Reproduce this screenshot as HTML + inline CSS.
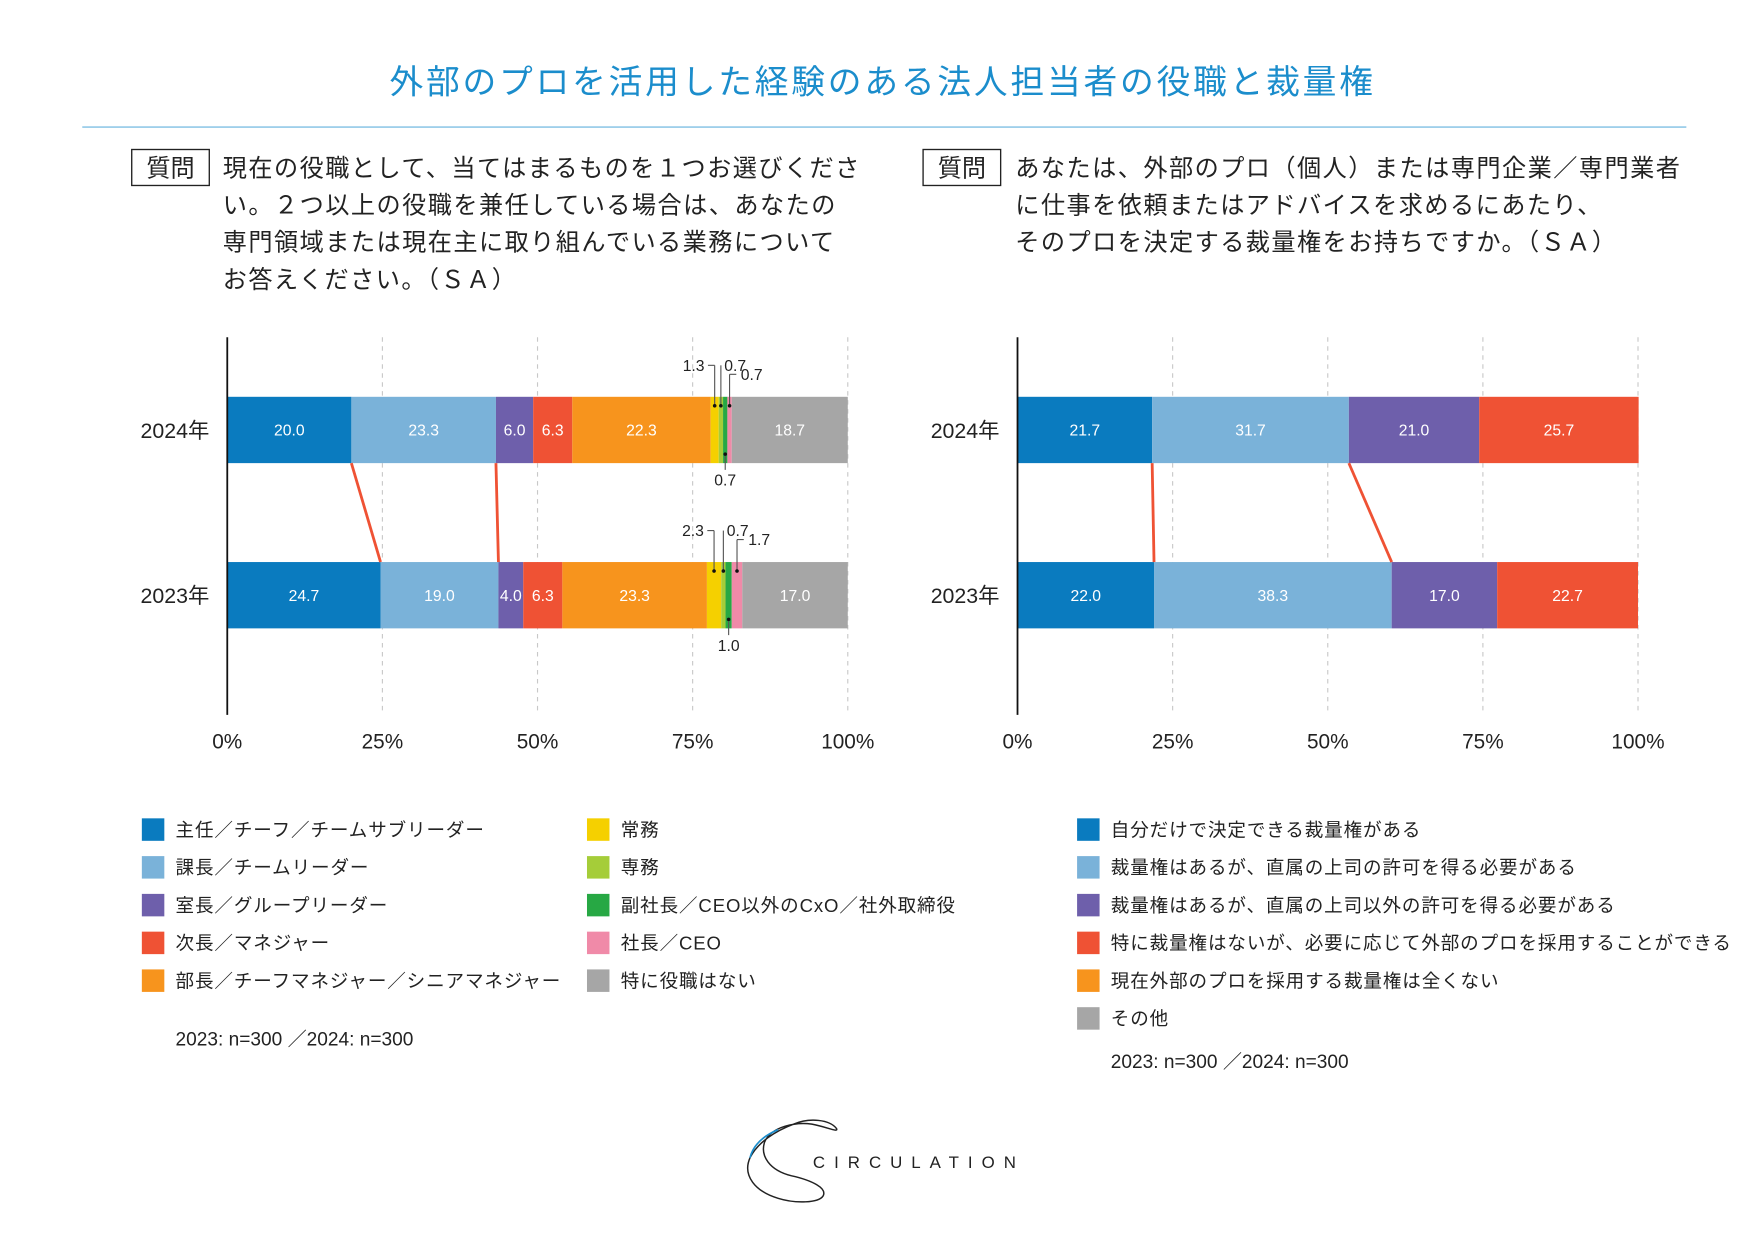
<!DOCTYPE html>
<html lang="ja">
<head>
<meta charset="utf-8">
<style>
  html,body{margin:0;padding:0;background:#fff;}
  body{width:1754px;height:1241px;overflow:hidden;}
  svg{display:block;font-family:"Liberation Sans","Noto Sans CJK JP",sans-serif;}
  .q{font-size:21.5px;fill:#222;letter-spacing:1.3px;}
  .lg{font-size:16.5px;fill:#222;letter-spacing:0.8px;}
</style>
</head>
<body>
<svg id="root" width="1754" height="1241" viewBox="0 0 1560 1104" xmlns="http://www.w3.org/2000/svg">
  <text x="785" y="83" text-anchor="middle" font-size="30" letter-spacing="2.5" fill="#1b8dcc">外部のプロを活用した経験のある法人担当者の役職と裁量権</text>
  <line x1="73" y1="113" x2="1500" y2="113" stroke="#7fbfe3" stroke-width="1.2"/>

  <g>
    <rect x="117" y="133" width="69" height="32" fill="none" stroke="#222" stroke-width="1.2"/>
    <text x="151.5" y="157" text-anchor="middle" class="q" style="letter-spacing:0">質問</text>
    <text class="q" x="198" y="157">現在の役職として、当てはまるものを１つお選びくださ</text>
    <text class="q" x="198" y="190">い。２つ以上の役職を兼任している場合は、あなたの</text>
    <text class="q" x="198" y="223">専門領域または現在主に取り組んでいる業務について</text>
    <text class="q" x="198" y="256">お答えください。（ＳＡ）</text>
  </g>
  <g>
    <rect x="821" y="133" width="69" height="32" fill="none" stroke="#222" stroke-width="1.2"/>
    <text x="855.5" y="157" text-anchor="middle" class="q" style="letter-spacing:0">質問</text>
    <text class="q" x="903" y="157">あなたは、外部のプロ（個人）または専門企業／専門業者</text>
    <text class="q" x="903" y="190">に仕事を依頼またはアドバイスを求めるにあたり、</text>
    <text class="q" x="903" y="223">そのプロを決定する裁量権をお持ちですか。（ＳＡ）</text>
  </g>

  <g id="leftChart"></g>
  <g id="rightChart"></g>
  <g id="leftLegend"></g>
  <g id="rightLegend"></g>

  <text x="156" y="930" font-size="17" fill="#222">2023: n=300 ／2024: n=300</text>
  <text x="988" y="950" font-size="17" fill="#222">2023: n=300 ／2024: n=300</text>

  <g>
    <path d="M744,1004 C738,996 720,994 706,1000 C690,1006 674,1016 667,1030 C660,1046 672,1060 692,1066 C708,1071 728,1070 732,1064 C736,1057 722,1050 704,1046 C684,1041 676,1028 680,1016 C686,1002 708,998 722,1000 C734,1002 746,1008 744,1004 Z" fill="none" stroke="#222" stroke-width="1.3"/>
    <path d="M667,1030 C670,1018 680,1010 692,1005" fill="none" stroke="#1b8dcc" stroke-width="1.5"/>
    <text x="723" y="1039" font-size="15" letter-spacing="8" fill="#222">CIRCULATION</text>
  </g>
</svg>
<script>
// ---------- data ----------
const years = ["2024年", "2023年"];
const leftCategories = ["主任／チーフ／チームサブリーダー","課長／チームリーダー","室長／グループリーダー","次長／マネジャー","部長／チーフマネジャー／シニアマネジャー","常務","専務","副社長／CEO以外のCxO／社外取締役","社長／CEO","特に役職はない"];
const left2024 = [20.0, 23.3, 6.0, 6.3, 22.3, 1.3, 0.7, 0.7, 0.7, 18.7];
const left2023 = [24.7, 19.0, 4.0, 6.3, 23.3, 2.3, 0.7, 1.0, 1.7, 17.0];
const rightCategories = ["自分だけで決定できる裁量権がある","裁量権はあるが、直属の上司の許可を得る必要がある","裁量権はあるが、直属の上司以外の許可を得る必要がある","特に裁量権はないが、必要に応じて外部のプロを採用することができる","現在外部のプロを採用する裁量権は全くない","その他"];
const right2024 = [21.7, 31.7, 21.0, 25.7, 0, 0];
const right2023 = [22.0, 38.3, 17.0, 22.7, 0, 0];
const tickLabels = ["0%", "25%", "50%", "75%", "100%"];
const tickValues = [0, 25, 50, 75, 100];

// ---------- styles ----------
const leftColors = ["#0a7bbf","#7ab2d9","#6e5fab","#ef5234","#f7941d","#f5d000","#a5cd39","#27a844","#f08aa8","#a6a6a6"];
const rightColors = ["#0a7bbf","#7ab2d9","#6e5fab","#ef5234","#f7941d","#a6a6a6"];
const calloutSide = [null,null,null,null,null,"L","R","B","R2",null];

const NS = "http://www.w3.org/2000/svg";
function mk(tag, attrs, parent){
  const e = document.createElementNS(NS, tag);
  for (const k in attrs) e.setAttribute(k, attrs[k]);
  parent.appendChild(e);
  return e;
}

function drawChart(g, x0, x1, series, colors, useCallouts, connectCount){
  const xs = v => x0 + (x1 - x0) * v / 100;
  const barTops = [353, 500], barH = 59;
  tickValues.forEach((t, i) => {
    if (t > 0) {
      const gl = mk("line", {x1: xs(t), x2: xs(t), y1: 300, y2: 636, stroke: "#c8c8c8", "stroke-dasharray": "4,4", "stroke-width": 1}, g);
      
      
    }
    const tl = mk("text", {x: xs(t), y: 666, "text-anchor": "middle", "font-size": 18.5, fill: "#222"}, g);
    tl.textContent = tickLabels[i];
    
    
  });
  series.forEach((vals, r) => {
    const top = barTops[r];
    const yl = mk("text", {x: x0 - 16, y: top + barH/2 + 7, "text-anchor": "end", "font-size": 19, fill: "#222"}, g);
    yl.textContent = years[r];
    
    
    let cum = 0;
    vals.forEach((v, i) => {
      if (v <= 0) { return; }
      const a = xs(cum), b = xs(cum + v);
      const rc = mk("rect", {x: a, y: top, width: b - a, height: barH, fill: colors[i]}, g);
      
      
      const cx = (a + b) / 2;
      if (v >= 3) {
        const t = mk("text", {x: cx, y: top + barH/2 + 5, "text-anchor": "middle", "font-size": 14, fill: "#fff"}, g);
        t.textContent = v.toFixed(1);
        
        
      } else if (useCallouts && calloutSide[i]) {
        const side = calloutSide[i];
        const cg = mk("g", {}, g);
        
        
        let dotY, lineEnd, tx, ty, anchor, hx;
        if (side === "B") {
          dotY = top + barH - 8; lineEnd = top + barH + 6;
          mk("line", {x1: cx, x2: cx, y1: dotY, y2: lineEnd, stroke: "#555", "stroke-width": 1}, cg);
          tx = cx; ty = top + barH + 20; anchor = "middle";
        } else {
          dotY = top + 8;
          const ly = side === "R2" ? top - 20 : top - 28;
          mk("line", {x1: cx, x2: cx, y1: dotY, y2: ly, stroke: "#555", "stroke-width": 1}, cg);
          if (side === "L") { hx = cx - 6; tx = cx - 9; anchor = "end"; }
          else { hx = cx + 6; tx = cx + 3; anchor = "start"; if (side === "R2") { tx = cx + 10; } }
          mk("line", {x1: cx, x2: side === "R" ? cx : hx, y1: ly, y2: ly, stroke: "#555", "stroke-width": 1}, cg);
          ty = ly + 5;
        }
        mk("circle", {cx: cx, cy: dotY, r: 1.6, fill: "#111"}, cg);
        const t = mk("text", {x: tx, y: ty, "text-anchor": anchor, "font-size": 14, fill: "#222"}, cg);
        t.textContent = v.toFixed(1);
      }
      cum += v;
    });
  });
  let c1 = 0, c2 = 0;
  for (let i = 0; i < connectCount; i++) {
    c1 += series[0][i]; c2 += series[1][i];
    const ln = mk("line", {x1: xs(c1), y1: barTops[0] + barH, x2: xs(c2), y2: barTops[1], stroke: "#ef5234", "stroke-width": 2.5}, g);
    
    
  }
  const ax = mk("line", {x1: x0, x2: x0, y1: 300, y2: 636, stroke: "#111", "stroke-width": 1.6}, g);
  
  
}

drawChart(document.getElementById("leftChart"), 202, 754, [left2024, left2023], leftColors, true, 2);
drawChart(document.getElementById("rightChart"), 905, 1457, [right2024, right2023], rightColors, false, 2);

function drawLegend(g, items, colors, cols){
  items.forEach((name, i) => {
    const col = cols.length > 1 ? Math.floor(i / 5) : 0;
    const row = cols.length > 1 ? i % 5 : i;
    const x = cols[col], y = 728 + row * 33.6;
    const eg = mk("g", {}, g);
    
    
    mk("rect", {x: x, y: y, width: 20, height: 20, fill: colors[i]}, eg);
    const t = mk("text", {x: x + 30, y: y + 16, class: "lg"}, eg);
    t.textContent = name;
  });
}
drawLegend(document.getElementById("leftLegend"), leftCategories, leftColors, [126, 522]);
drawLegend(document.getElementById("rightLegend"), rightCategories, rightColors, [958]);
</script>
</body>
</html>
